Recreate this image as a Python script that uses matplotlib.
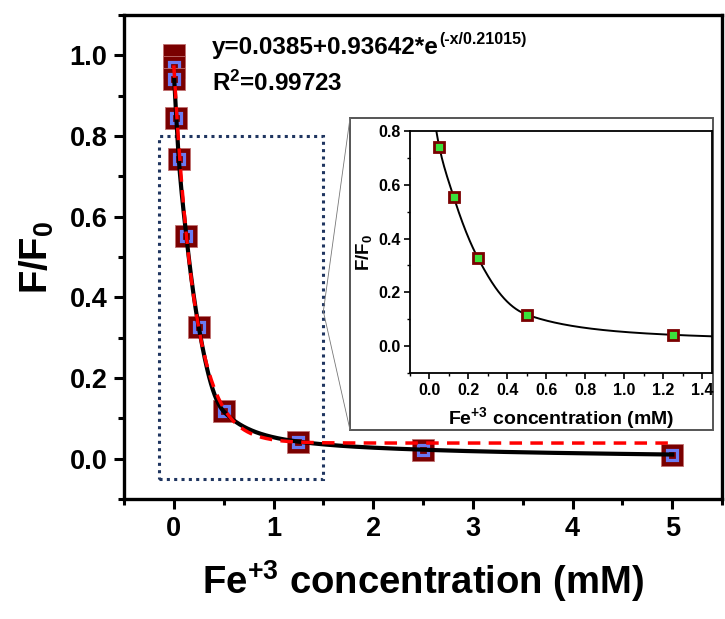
import numpy as np
import matplotlib
matplotlib.use("Agg")
import matplotlib.pyplot as plt
from matplotlib.patches import Rectangle, ConnectionPatch
from matplotlib.ticker import MultipleLocator

plt.rcParams['font.family'] = ['Liberation Sans', 'DejaVu Sans']
plt.rcParams['font.weight'] = 'bold'
plt.rcParams['mathtext.fontset'] = 'custom'
plt.rcParams['mathtext.rm'] = 'Liberation Sans:bold'
plt.rcParams['mathtext.bf'] = 'Liberation Sans:bold'
plt.rcParams['mathtext.it'] = 'Liberation Sans:bold'
plt.rcParams['mathtext.default'] = 'bf'

# quenching data, F/F0 vs Fe3+ (mM)
conc = [0.0, 0.0, 0.004, 0.025, 0.05, 0.125, 0.25, 0.5, 1.25, 2.5, 5.0]
ratio = [1.0, 0.97, 0.94, 0.845, 0.742, 0.553, 0.326, 0.117, 0.042, 0.022, 0.010]

# inset points (zoomed region)
conc_in = [0.05, 0.125, 0.25, 0.5, 1.25]
ratio_in = [0.742, 0.553, 0.326, 0.117, 0.042]

# exponential fit from the figure
y0, A, t = 0.0385, 0.93642, 0.21015

dark_red = '#7a0000'
blue = '#6a7af2'
green = '#3be03b'


def pchip(xk, yk, xq):
    xk = np.asarray(xk, float)
    yk = np.asarray(yk, float)
    h = np.diff(xk)
    d = np.diff(yk) / h
    m = np.zeros_like(yk)
    m[0], m[-1] = d[0], d[-1]
    for k in range(1, len(xk) - 1):
        if d[k - 1] * d[k] > 0:
            w1 = 2 * h[k] + h[k - 1]
            w2 = h[k] + 2 * h[k - 1]
            m[k] = (w1 + w2) / (w1 / d[k - 1] + w2 / d[k])
    idx = np.clip(np.searchsorted(xk, xq) - 1, 0, len(xk) - 2)
    s = (xq - xk[idx]) / h[idx]
    h00 = 2 * s**3 - 3 * s**2 + 1
    h10 = s**3 - 2 * s**2 + s
    h01 = -2 * s**3 + 3 * s**2
    h11 = s**3 - s**2
    return h00 * yk[idx] + h10 * h[idx] * m[idx] + h01 * yk[idx + 1] + h11 * h[idx] * m[idx + 1]


# smooth black curve through points (in log space)
xs_black = np.array(conc[2:])
ls_black = np.log(np.array(ratio[2:]))
xx = np.linspace(conc[2], 5.0, 800)
yy_black = np.exp(pchip(xs_black, ls_black, xx))
xx_fit = np.linspace(0, 5.0, 800)
yy_fit = y0 + A * np.exp(-xx_fit / t)

fig = plt.figure(figsize=(7.25, 6.19), dpi=100)
ax = fig.add_axes([0.171, 0.194, 0.825, 0.782])

for i, (x, y) in enumerate(zip(conc, ratio)):
    ax.plot(x, y, 's', ms=16.5, mfc=dark_red, mec='#c07070', mew=0.6, zorder=2)
    if i > 0:
        ax.plot(x, y, 's', ms=6.8, mfc=dark_red, mec=blue, mew=2.3, zorder=2)

ax.plot(xx, yy_black, color='black', lw=3, zorder=3)
ax.plot(xx_fit, yy_fit, color='red', lw=2.5, dashes=(3.6, 2.4), zorder=4)

ax.add_patch(Rectangle((-0.15, -0.05), 1.65, 0.85, fill=False, ls=(0, (1, 1.4)),
                       lw=2.2, ec='#1f3560', zorder=1))

ax.set_xlim(-0.5, 5.5)
ax.set_ylim(-0.1, 1.1)
ax.xaxis.set_major_locator(MultipleLocator(1))
ax.xaxis.set_minor_locator(MultipleLocator(0.5))
ax.yaxis.set_major_locator(MultipleLocator(0.2))
ax.yaxis.set_minor_locator(MultipleLocator(0.1))
ax.set_xticks([0, 1, 2, 3, 4, 5])
ax.set_yticks([0.0, 0.2, 0.4, 0.6, 0.8, 1.0])
ax.set_yticklabels(['0.0', '0.2', '0.4', '0.6', '0.8', '1.0'])
ax.tick_params(which='major', direction='out', length=7, width=2.2, labelsize=19.5, pad=5)
ax.tick_params(which='minor', direction='out', length=4, width=2.2)
for sp in ax.spines.values():
    sp.set_linewidth(2.4)
ax.set_xlabel('Fe$^{+3}$ concentration (mM)', fontsize=27.5, fontweight='bold', labelpad=12)
ax.set_ylabel('F/F$_0$', fontsize=27.5, fontweight='bold', labelpad=10)

eq = ax.text(0.38, 1.02, 'y=0.0385+0.93642*e', fontsize=17.5, fontweight='bold',
             va='center', ha='left')
ax.text(0.38, 0.93, 'R$^2$=0.99723', fontsize=17.5, fontweight='bold', va='center', ha='left')
fig.canvas.draw()
bb = eq.get_window_extent()
ax.annotate('(-x/0.21015)', xy=(bb.x1, bb.y1), xycoords='figure pixels',
            xytext=(0.5, -3), textcoords='offset points', fontsize=11.5,
            fontweight='bold', va='center', ha='left')

# inset frame
box = Rectangle((0.4828, 0.3053), 0.5007, 0.504, transform=fig.transFigure,
                fc='white', ec='#555555', lw=1.4, zorder=2)
fig.add_artist(box)
for yb in (0.8094, 0.3053):
    con = ConnectionPatch(xyA=(1.5, 0.365), coordsA=ax.transData,
                          xyB=(0.4828, yb), coordsB=fig.transFigure,
                          color='#777777', lw=0.6, zorder=2)
    fig.add_artist(con)

axi = fig.add_axes([0.5655, 0.3974, 0.4165, 0.391])
axi.set_zorder(3)
xi = np.linspace(0, 1.5, 400)
axi.plot(xi, np.exp(pchip(xs_black, ls_black, xi)), color='black', lw=1.4, zorder=2)
axi.plot(conc_in, ratio_in, 's', ms=7, mfc=green, mec=dark_red, mew=2, zorder=3)
axi.set_xlim(-0.1, 1.45)
axi.set_ylim(-0.1, 0.8)
axi.xaxis.set_major_locator(MultipleLocator(0.2))
axi.xaxis.set_minor_locator(MultipleLocator(0.1))
axi.yaxis.set_major_locator(MultipleLocator(0.2))
axi.yaxis.set_minor_locator(MultipleLocator(0.1))
axi.tick_params(which='major', direction='out', length=4, width=1.2, labelsize=11.5, pad=3)
axi.tick_params(which='minor', direction='out', length=2.5, width=1.0)
for sp in axi.spines.values():
    sp.set_linewidth(1.3)
axi.set_xlabel('Fe$^{+3}$ concentration (mM)', fontsize=14, fontweight='bold', labelpad=5)
axi.set_ylabel('F/F$_0$', fontsize=13.5, fontweight='bold', labelpad=3)

fig.savefig('out.png', dpi=100)
